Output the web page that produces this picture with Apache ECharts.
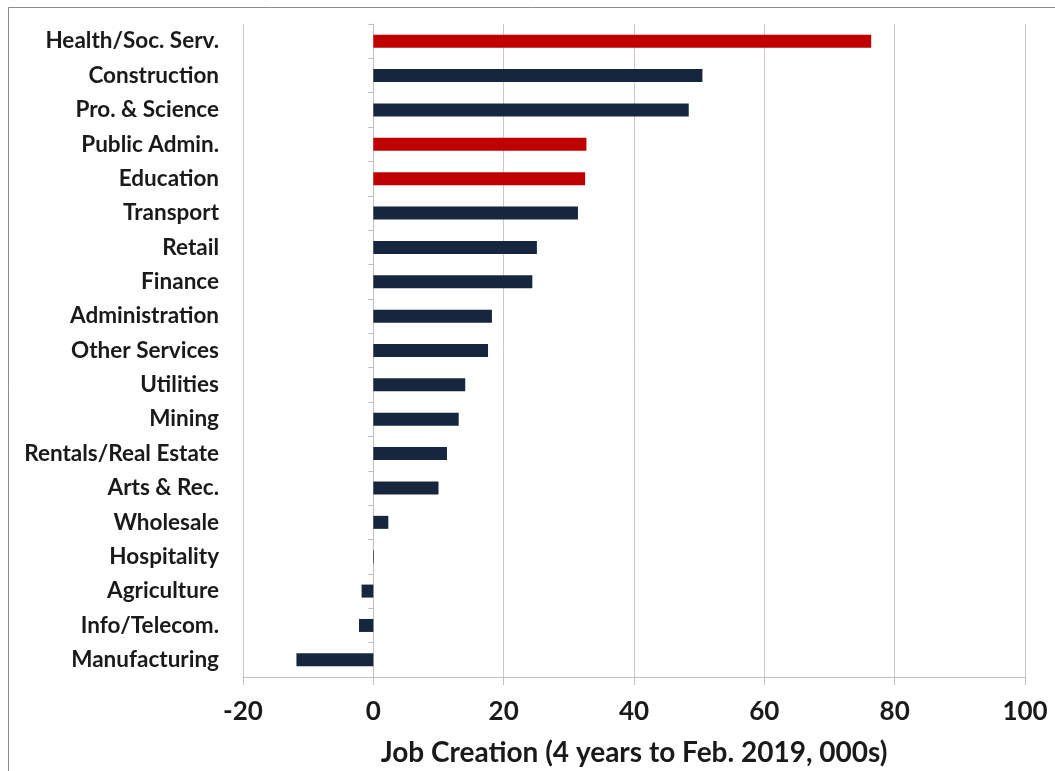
<!DOCTYPE html>
<html>
<head>
<meta charset="utf-8">
<style>
  html, body { margin: 0; padding: 0; background: #fff; }
  #chart { width: 1055px; height: 771px; }
</style>
<script src="https://cdn.jsdelivr.net/npm/echarts@6/dist/echarts.min.js"></script>
</head>
<body>
<div id="chart"></div>
<script>
// Industries, top to bottom
const industries = [
  'Health/Soc. Serv.', 'Construction', 'Pro. & Science', 'Public Admin.', 'Education',
  'Transport', 'Retail', 'Finance', 'Administration', 'Other Services', 'Utilities',
  'Mining', 'Rentals/Real Estate', 'Arts & Rec.', 'Wholesale', 'Hospitality',
  'Agriculture', 'Info/Telecom.', 'Manufacturing'
];
// Jobs created over the four years to Feb. 2019, thousands
const jobCreation = [
  76.4, 50.5, 48.4, 32.7, 32.5,
  31.4, 25.1, 24.4, 18.2, 17.6, 14.1,
  13.1, 11.3, 10.0, 2.3, 0.1,
  -1.8, -2.2, -11.8
];
// Public-sector industries are highlighted in red
const publicSector = ['Health/Soc. Serv.', 'Public Admin.', 'Education'];
const xTicks = [-20, 0, 20, 40, 60, 80, 100];

const RED = '#C00000';
const NAVY = '#16263F';
const FONT = 'Lato, "Open Sans", sans-serif';
const INK = '#1a1a1a';

// Category axis runs top-to-bottom, so feed it reversed
const cats = industries.slice().reverse();
const vals = jobCreation.slice().reverse().map((v, i) => ({
  value: v,
  itemStyle: { color: publicSector.includes(cats[i]) ? RED : NAVY }
}));

const chart = echarts.init(document.getElementById('chart'));
chart.setOption({
  animation: false,
  backgroundColor: '#fff',
  graphic: [{
    type: 'rect',
    shape: { x: 8.5, y: 7.5, width: 1060, height: 780 },
    style: { fill: 'none', stroke: '#8c8c8c', lineWidth: 1 },
    silent: true
  }],
  grid: { left: 243, right: 30, top: 24, bottom: 94, containLabel: false, outerBoundsMode: 'none' },
  xAxis: {
    type: 'value',
    min: xTicks[0],
    max: xTicks[xTicks.length - 1],
    interval: 20,
    name: 'Job Creation (4 years to Feb. 2019, 000s)',
    nameLocation: 'middle',
    nameGap: 62,
    nameTextStyle: { fontFamily: FONT, fontWeight: 'bold', fontSize: 28, color: INK },
    axisLine: { show: true, onZero: false, lineStyle: { color: '#bfbfbf', width: 1 } },
    axisTick: { show: true, length: 8, lineStyle: { color: '#bfbfbf' } },
    axisLabel: { fontFamily: FONT, fontWeight: 'bold', fontSize: 26, color: INK, margin: 22 },
    splitLine: { show: true, lineStyle: { color: '#c8c8c8', width: 1 } }
  },
  yAxis: {
    type: 'category',
    data: cats,
    axisLine: { show: true, onZero: true, lineStyle: { color: '#bfbfbf', width: 1 } },
    axisTick: { show: true, length: 5, inside: false, lineStyle: { color: '#bfbfbf' } },
    axisLabel: {
      fontFamily: FONT, fontWeight: 'bold', fontSize: 22.5, color: INK,
      margin: 24
    },
    splitLine: { show: false }
  },
  series: [{
    type: 'bar',
    data: vals,
    barWidth: 13
  }]
});
</script>
</body>
</html>
